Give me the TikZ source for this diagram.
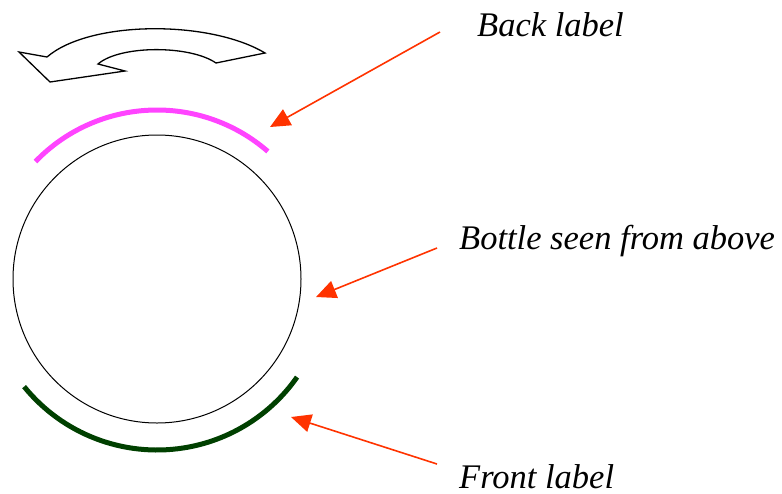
\documentclass[tikz,border=0pt]{standalone}
\usepackage{fontspec}
\setmainfont{Liberation Serif}
\usetikzlibrary{arrows.meta}
\definecolor{arrowred}{HTML}{FF3300}
\definecolor{labelmag}{HTML}{FF44FF}
\definecolor{labelgreen}{HTML}{004000}
\begin{document}
\begin{tikzpicture}[x=1pt,y=-1pt,
  pointer/.style={draw=arrowred, line width=1.6pt, -{Triangle[length=20pt,width=18pt]}, arrowred},
  caption/.style={font=\fontsize{34.5}{38}\selectfont\itshape, anchor=west, inner sep=0pt},
  labelarc/.style={line width=5pt}]
\useasboundingbox (0,0) rectangle (782,493);
% bottle
\node[circle, draw, line width=1pt, minimum size=288pt, inner sep=0pt] (bottle) at (157,279) {};
% labels arcs
\draw[labelarc, labelmag] (157,279) ++(-136:169) arc[start angle=-136, end angle=-49, radius=169];
\draw[labelarc, labelgreen] (157,279) ++(141:171) arc[start angle=141, end angle=35, radius=171];
% rotation arrow
\draw[line width=1.3pt, fill=white, line join=miter]
  (47,57) .. controls (90,20) and (210,20) .. (265,53)
  -- (216,63) .. controls (190,45) and (120,45) .. (98,64)
  -- (125,71) -- (50,82) -- (19,52) -- cycle;
% texts
\node[caption] (back) at (477,25) {Back label};
\node[caption] (bottletxt) at (459,241) {Bottle seen from above};
\node[caption] (front) at (459,477) {Front label};
% pointer ends
\coordinate (backstart) at (440,32);
\coordinate (backtip) at (270,127);
\coordinate (bottlestart) at (437,248);
\coordinate (bottletip) at (316,297);
\coordinate (frontstart) at (437,464);
\coordinate (fronttip) at (291,417);
\draw[pointer] (backstart) -- (backtip);
\draw[pointer] (bottlestart) -- (bottletip);
\draw[pointer] (frontstart) -- (fronttip);
\end{tikzpicture}
\end{document}
